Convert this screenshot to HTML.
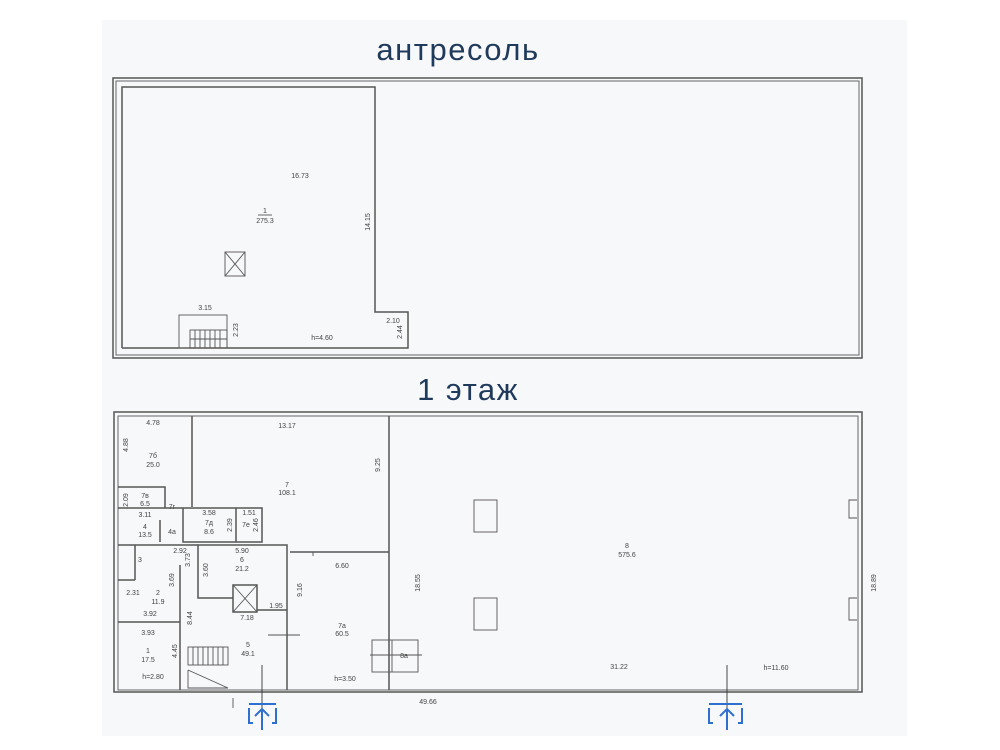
<!DOCTYPE html>
<html><head><meta charset="utf-8"><style>
html,body{margin:0;padding:0;background:#fff;}
svg{display:block}
text{font-family:"Liberation Sans",sans-serif;fill:#444;font-size:7px}
.t{font-size:31px;fill:#1f3a5a;letter-spacing:1.5px}
.w{stroke:#555;fill:none;stroke-width:1.5}
.w2{stroke:#666;fill:none;stroke-width:1}
.b{stroke:#2f6fd0;fill:none;stroke-width:2}
</style></head><body>
<svg width="1000" height="750" viewBox="0 0 1000 750" xmlns="http://www.w3.org/2000/svg">
<rect x="102" y="20" width="805" height="716" fill="#f7f8fa"/>
<text class="t" x="458" y="60" text-anchor="middle">антресоль</text>
<text class="t" x="468" y="400" text-anchor="middle">1 этаж</text>

<!-- upper plan -->
<rect x="113" y="78" width="749" height="280" class="w"/>
<rect x="116" y="81" width="743" height="274" class="w2"/>
<polyline points="122,348 122,87 375,87 375,312 408,312 408,348 122,348" class="w"/>
<rect x="179" y="315" width="48" height="33" class="w2"/>
<g stroke="#555" stroke-width="0.9">
<rect x="190" y="330" width="37" height="18" fill="none"/>
<line x1="195" y1="330" x2="195" y2="348"/><line x1="200" y1="330" x2="200" y2="348"/><line x1="205" y1="330" x2="205" y2="348"/><line x1="210" y1="330" x2="210" y2="348"/><line x1="215" y1="330" x2="215" y2="348"/><line x1="220" y1="330" x2="220" y2="348"/>
<line x1="190" y1="339" x2="227" y2="339"/>
<rect x="225" y="252" width="20" height="24" fill="none"/>
<line x1="225" y1="252" x2="245" y2="276"/><line x1="245" y1="252" x2="225" y2="276"/>
<line x1="258" y1="215" x2="272" y2="215"/>
</g>
<text x="300" y="178" text-anchor="middle">16.73</text>
<text x="265" y="213" text-anchor="middle">1</text>
<text x="265" y="223" text-anchor="middle">275.3</text>
<text x="370" y="222" text-anchor="middle" transform="rotate(-90 370 222)">14.15</text>
<text x="205" y="310" text-anchor="middle">3.15</text>
<text x="238" y="330" text-anchor="middle" transform="rotate(-90 238 330)">2.23</text>
<text x="322" y="340" text-anchor="middle">h=4.60</text>
<text x="393" y="323" text-anchor="middle">2.10</text>
<text x="402" y="332" text-anchor="middle" transform="rotate(-90 402 332)">2.44</text>

<!-- lower plan -->
<rect x="114" y="412" width="748" height="280" class="w"/>
<rect x="118" y="416" width="740" height="274" class="w2"/>
<g class="w">
<line x1="192" y1="416" x2="192" y2="507"/>
<line x1="389" y1="416" x2="389" y2="690"/>
<polyline points="118,487 165,487 165,508"/>
<polyline points="118,508 183,508 183,542 262,542 262,508 183,508"/>
<line x1="236" y1="508" x2="236" y2="542"/>
<polyline points="118,545 198,545"/>
<polyline points="233,598 198,598 198,545 287,545 287,690"/>
<rect x="233" y="585" width="24" height="27"/>
<line x1="257" y1="610" x2="287" y2="610"/>
<line x1="290" y1="552" x2="389" y2="552"/>
<line x1="180" y1="565" x2="180" y2="690"/>
<line x1="118" y1="622" x2="180" y2="622"/>
<line x1="118" y1="580" x2="135" y2="580"/>
<line x1="135" y1="545" x2="135" y2="580"/>
<line x1="160" y1="520" x2="160" y2="542"/>
</g>
<g stroke="#555" stroke-width="0.9" fill="none">
<line x1="233" y1="585" x2="257" y2="612"/><line x1="257" y1="585" x2="233" y2="612"/>
<rect x="188" y="647" width="40" height="18"/>
<line x1="193" y1="647" x2="193" y2="665"/><line x1="198" y1="647" x2="198" y2="665"/><line x1="203" y1="647" x2="203" y2="665"/><line x1="208" y1="647" x2="208" y2="665"/><line x1="213" y1="647" x2="213" y2="665"/><line x1="218" y1="647" x2="218" y2="665"/><line x1="223" y1="647" x2="223" y2="665"/>
<polyline points="188,670 228,688 188,688 188,670"/>
<line x1="268" y1="635" x2="300" y2="635"/><line x1="313" y1="552" x2="313" y2="556"/>
<line x1="262" y1="665" x2="262" y2="730" stroke="#333"/>
<line x1="727" y1="665" x2="727" y2="730" stroke="#333"/>
<rect x="474" y="500" width="23" height="32"/>
<rect x="474" y="598" width="23" height="32"/>
<polyline points="857,500 849,500 849,518 857,518"/>
<polyline points="857,598 849,598 849,620 857,620"/>
<rect x="372" y="640" width="46" height="32"/>
<line x1="392" y1="640" x2="392" y2="672"/>
<line x1="370" y1="655" x2="422" y2="655"/>
<line x1="233" y1="698" x2="233" y2="708"/>
</g>
<g class="b">
<polyline points="249,708 249,723 253,723"/><polyline points="276,708 276,723 272,723"/><line x1="249" y1="704" x2="276" y2="704"/>
<line x1="262" y1="709" x2="262" y2="730"/><polyline points="255,716 262,709 269,716"/>
<polyline points="709,708 709,723 713,723"/><polyline points="742,708 742,723 738,723"/><line x1="709" y1="704" x2="742" y2="704"/>
<line x1="727" y1="709" x2="727" y2="730"/><polyline points="720,716 727,709 734,716"/>
</g>
<text x="153" y="425" text-anchor="middle">4.78</text>
<text x="128" y="445" text-anchor="middle" transform="rotate(-90 128 445)">4.88</text>
<text x="153" y="458" text-anchor="middle">7б</text><text x="153" y="467" text-anchor="middle">25.0</text>
<text x="287" y="428" text-anchor="middle">13.17</text>
<text x="287" y="487" text-anchor="middle">7</text><text x="287" y="495" text-anchor="middle">108.1</text>
<text x="380" y="465" text-anchor="middle" transform="rotate(-90 380 465)">9.25</text>
<text x="128" y="500" text-anchor="middle" transform="rotate(-90 128 500)">2.09</text>
<text x="145" y="498" text-anchor="middle">7в</text><text x="145" y="506" text-anchor="middle">6.5</text>
<text x="145" y="517" text-anchor="middle">3.11</text>
<text x="172" y="509" text-anchor="middle">7г</text>
<text x="145" y="529" text-anchor="middle">4</text><text x="145" y="537" text-anchor="middle">13.5</text>
<text x="172" y="534" text-anchor="middle">4а</text>
<text x="209" y="515" text-anchor="middle">3.58</text>
<text x="209" y="525" text-anchor="middle">7д</text><text x="209" y="534" text-anchor="middle">8.6</text>
<text x="232" y="525" text-anchor="middle" transform="rotate(-90 232 525)">2.39</text>
<text x="249" y="515" text-anchor="middle">1.51</text>
<text x="246" y="527" text-anchor="middle">7е</text>
<text x="258" y="525" text-anchor="middle" transform="rotate(-90 258 525)">2.46</text>
<text x="180" y="553" text-anchor="middle">2.92</text>
<text x="140" y="562" text-anchor="middle">3</text>
<text x="190" y="560" text-anchor="middle" transform="rotate(-90 190 560)">3.73</text>
<text x="208" y="570" text-anchor="middle" transform="rotate(-90 208 570)">3.60</text>
<text x="242" y="553" text-anchor="middle">5.90</text>
<text x="242" y="562" text-anchor="middle">6</text><text x="242" y="571" text-anchor="middle">21.2</text>
<text x="174" y="580" text-anchor="middle" transform="rotate(-90 174 580)">3.69</text>
<text x="133" y="595" text-anchor="middle">2.31</text>
<text x="158" y="595" text-anchor="middle">2</text><text x="158" y="604" text-anchor="middle">11.9</text>
<text x="150" y="616" text-anchor="middle">3.92</text>
<text x="302" y="590" text-anchor="middle" transform="rotate(-90 302 590)">9.16</text>
<text x="342" y="568" text-anchor="middle">6.60</text>
<text x="276" y="608" text-anchor="middle">1.95</text>
<text x="192" y="618" text-anchor="middle" transform="rotate(-90 192 618)">8.44</text>
<text x="247" y="620" text-anchor="middle">7.18</text>
<text x="342" y="628" text-anchor="middle">7а</text><text x="342" y="636" text-anchor="middle">60.5</text>
<text x="148" y="635" text-anchor="middle">3.93</text>
<text x="148" y="653" text-anchor="middle">1</text><text x="148" y="662" text-anchor="middle">17.5</text>
<text x="177" y="651" text-anchor="middle" transform="rotate(-90 177 651)">4.45</text>
<text x="248" y="647" text-anchor="middle">5</text><text x="248" y="656" text-anchor="middle">49.1</text>
<text x="153" y="679" text-anchor="middle">h=2.80</text>
<text x="345" y="681" text-anchor="middle">h=3.50</text>
<text x="404" y="658" text-anchor="middle">8а</text>
<text x="627" y="548" text-anchor="middle">8</text><text x="627" y="557" text-anchor="middle">575.6</text>
<text x="420" y="583" text-anchor="middle" transform="rotate(-90 420 583)">18.55</text>
<text x="876" y="583" text-anchor="middle" transform="rotate(-90 876 583)">18.89</text>
<text x="619" y="669" text-anchor="middle">31.22</text>
<text x="776" y="670" text-anchor="middle">h=11.60</text>
<text x="428" y="704" text-anchor="middle">49.66</text>
</svg>
</body></html>
